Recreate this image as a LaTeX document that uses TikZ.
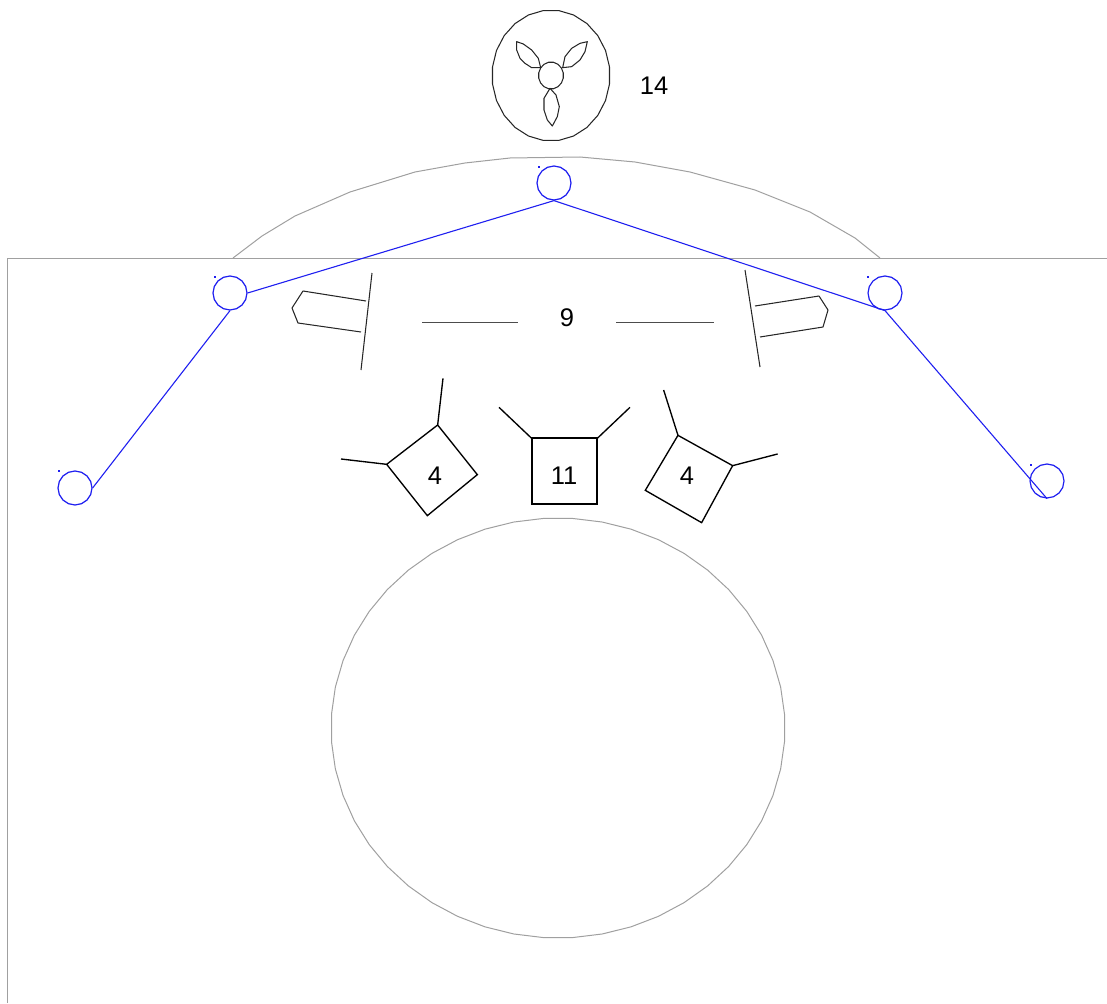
\documentclass[tikz,border=0pt]{standalone}
\usepackage{fontspec}
\setmainfont{Liberation Sans}
\usetikzlibrary{shapes.geometric}
\definecolor{gr}{HTML}{A0A0A0}
\definecolor{bl}{HTML}{1F1FF0}
\tikzset{
  grayline/.style={draw=gr,line width=1pt,line join=round},
  blueline/.style={draw=bl,line width=1.1pt},
  inkline/.style={draw=black!85,line width=1.05pt,line join=round},
  flatline/.style={draw=black!70,line width=1pt},
  boxline/.style={draw=black,line width=1.35pt,line join=miter},
  squareline/.style={draw=black,line width=1.7pt,line join=miter},
  joint/.style={regular polygon,regular polygon sides=16,shape border rotate=11.25,draw=bl,line width=1.2pt,minimum size=34pt,inner sep=0pt},
  tick/.style={fill=bl,inner sep=0pt,minimum size=1.5pt},
  lab/.style={font=\fontsize{25.5}{25.5}\selectfont,text=black,inner sep=0pt}
}
\begin{document}
\begin{tikzpicture}[x=1pt,y=-1pt]
\useasboundingbox (0,0) rectangle (1107,1003);
% frame
\draw[grayline] (7.5,1003) -- (7.5,258.5) -- (1107,258.5);
\draw[grayline] (233,258) -- (262,236) -- (295,216) -- (350,192) -- (415,172) -- (465,163) -- (510,158) -- (580,157) -- (635,162) -- (690,172) -- (755,190) -- (810,212) -- (855,238) -- (880,258);
% drum
\draw[grayline] plot[samples=49,domain=3.75:363.75] ({558+227*cos(\x)},{728+210*sin(\x)}) -- cycle;
% fan
\draw[inkline] plot[samples=25,domain=7.5:367.5] ({551+59*cos(\x)},{75.5+65.5*sin(\x)}) -- cycle;
\draw[inkline] plot[samples=17,domain=11.25:371.25] ({551+12.5*cos(\x)},{75.5+13.5*sin(\x)}) -- cycle;
\begin{scope}[shift={(470,0)},x=0.3333pt,y=-0.3333pt]
\draw[inkline] (212,203) -- (205,175) -- (185,150) -- (160,132) -- (140,125) -- (140,150) -- (150,175) -- (165,190) -- (185,203) -- cycle;
\draw[inkline] (278,203) -- (285,170) -- (305,145) -- (330,130) -- (352,125) -- (345,155) -- (330,180) -- (305,200) -- cycle;
\draw[inkline] (240,265) -- (222,295) -- (222,330) -- (232,360) -- (247,378) -- (262,350) -- (268,320) -- (258,285) -- cycle;
\end{scope}
% blue linkage
\node[joint] (jl0) at (75,488) {};
\node[joint] (jl1) at (230,293) {};
\node[joint] (jt) at (554,183) {};
\node[joint] (jr1) at (885,293) {};
\node[joint] (jr0) at (1047,481) {};
\draw[blueline] (jl0.east) -- (jl1.south);
\draw[blueline] (jl1.east) -- (jt.south) -- (jr1.south) -- (jr0.south);
\node[tick] (t1) at (59,471) {};
\node[tick] (t2) at (215,277) {};
\node[tick] (t3) at (539,167) {};
\node[tick] (t4) at (868,277) {};
\node[tick] (t5) at (1031,465) {};
% brackets
\draw[inkline] (372,273) -- (361,370);
\draw[inkline] (745,270) -- (760,367);
\draw[inkline] (366,301) -- (303,291) -- (292,308) -- (298,323) -- (361,332);
\draw[inkline] (755,306) -- (819,296) -- (828,310) -- (823,327) -- (760,337);
% nine with lines
\node[lab] (n9) at (567,318) {9};
\draw[flatline] (422,322.5) -- (518,322.5);
\draw[flatline] (616,322.5) -- (714,322.5);
% boxes
\begin{scope}[shift={(330,370)},x=0.3333pt,y=-0.3333pt]
\draw[boxline] (323,165) -- (442,314) -- (292,437) -- (170,283) -- cycle;
\draw[boxline] (323,165) -- (339,25);
\draw[boxline] (170,283) -- (33,267);
\draw[squareline] (605,205) -- (802,205) -- (802,401) -- (605,401) -- cycle;
\draw[boxline] (605,205) -- (507,112);
\draw[boxline] (802,205) -- (900,112);
\draw[boxline] (1044,196) -- (1208,287) -- (1115,458) -- (946,361) -- cycle;
\draw[boxline] (1044,196) -- (1001,60);
\draw[boxline] (1208,287) -- (1343,252);
\end{scope}
\node[lab] (nl) at (435,476) {4};
\node[lab] (nc) at (564,476) {11};
\node[lab] (nr) at (687,476) {4};
\node[lab] (n14) at (654,86) {14};
\end{tikzpicture}
\end{document}
